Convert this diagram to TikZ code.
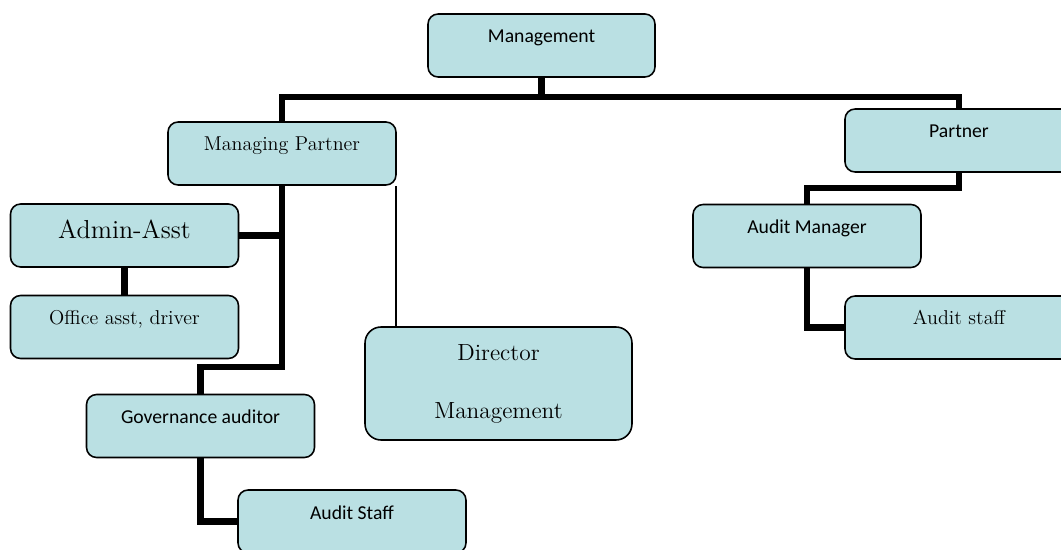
\documentclass[tikz,border=0pt]{standalone}
\usepackage{fontspec}
\newfontfamily\carlito{Carlito}
\usepackage{tikz}
\usetikzlibrary{calc}
\usetikzlibrary{positioning}
\definecolor{boxfill}{RGB}{186,224,227}
\tikzset{>=latex}
\tikzstyle{box} = [rectangle, draw=black, line width=0.9pt, fill=boxfill, rounded corners=0.2cm, minimum width=4.56cm, inner xsep=0pt, inner ysep=0pt, text height=0.58cm, text depth=0.68cm]
\tikzstyle{sansbox} = [box, font=\carlito\fontsize{11.2pt}{13pt}\selectfont]
\tikzstyle{serifbox} = [box, font=\fontsize{11.4pt}{14pt}\selectfont]
\tikzstyle{link} = [-, line width=3.6pt]
\tikzstyle{thinlink} = [-, line width=0.9pt]

\begin{document}
\begin{tikzpicture}[x=0.02cm, y=-0.02cm]
\useasboundingbox (0, 0) rectangle (1061, 550);
\node [sansbox, minimum width=4.54cm] (Mgmt) at (541.5, 45.5) {Management};
\node [serifbox] (MP) at (282, 153.5) {Managing Partner};
\node [sansbox] (Partner) at (959, 140.5) {Partner};
\node [serifbox, font=\fontsize{14.8pt}{17pt}\selectfont, text height=0.7cm, text depth=0.56cm] (Admin) at (124.5, 235.5) {Admin-Asst};
\node [serifbox] (Office) at (124.5, 327) {Office asst, driver};
\node [sansbox] (AM) at (807, 236) {Audit Manager};
\node [serifbox] (StaffR) at (959, 327.5) {Audit staff};
\node [rectangle, draw=black, line width=0.9pt, fill=boxfill, rounded corners=0.32cm, minimum width=5.34cm, minimum height=2.26cm, align=center, font=\fontsize{13.3pt}{16pt}\selectfont] (Dir) at (498.5, 383.5) {Director\\[0.6cm]Management};
\node [sansbox] (Gov) at (200.5, 426) {Governance auditor};
\node [sansbox] (StaffL) at (352, 521.5) {Audit Staff};
\coordinate (top) at (541.5, 97);
\coordinate (mpbend) at (282, 367);
\draw [link] (Mgmt.south) -- (top);
\draw [link] (MP.north) |- (top) -| (Partner.north);
\draw [link] (MP.south) -- (mpbend) -| (Gov.north);
\draw [link] (Admin.east) -- (Admin.east -| MP.south);
\draw [link] (Admin.south) -- (Office.north);
\draw [thinlink] ($(MP.south east)+(-1, 0)$) -- ($(MP.south east |- Dir.north)+(-1, 0)$);
\draw [link] (Partner.south) -- ++(0, 15) -| (AM.north);
\draw [link] (AM.south) |- (StaffR.west);
\draw [link] (Gov.south) |- (StaffL.west);
\end{tikzpicture}
\end{document}
